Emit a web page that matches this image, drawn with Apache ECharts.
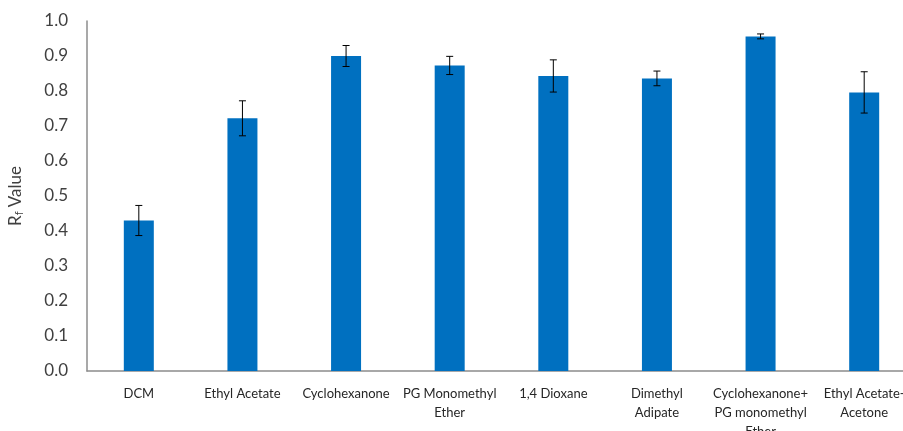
<!DOCTYPE html>
<html><head><meta charset="utf-8">
<script src="https://cdn.jsdelivr.net/npm/echarts@6/dist/echarts.min.js"></script>
<style>html,body{margin:0;padding:0;background:#fff;}#c{width:903px;height:431px;}</style>
</head><body><div id="c"></div>
<script>
const categories = ['DCM', 'Ethyl Acetate', 'Cyclohexanone', 'PG Monomethyl\nEther', '1,4 Dioxane', 'Dimethyl\nAdipate', 'Cyclohexanone+\nPG monomethyl\nEther', 'Ethyl Acetate-\nAcetone'];
const rfValues = [0.430, 0.722, 0.900, 0.873, 0.843, 0.836, 0.956, 0.796];
const rfErrors = [0.043, 0.050, 0.030, 0.026, 0.046, 0.021, 0.007, 0.059];
const yTicks = [0.0, 0.1, 0.2, 0.3, 0.4, 0.5, 0.6, 0.7, 0.8, 0.9, 1.0];

const chart = echarts.init(document.getElementById('c'));
const font = 'Lato, "Open Sans", sans-serif';
chart.setOption({
  animation: false,
  grid: { left: 87, right: -13, top: 21, bottom: 60, containLabel: false, outerBoundsMode: 'none' },
  xAxis: {
    type: 'category', data: categories,
    axisLine: { lineStyle: { color: '#8c8c8c', width: 1.5 } },
    axisTick: { show: false },
    axisLabel: { color: '#262626', fontFamily: font, fontSize: 13, margin: 13, lineHeight: 19, interval: 0, hideOverlap: false }
  },
  yAxis: {
    type: 'value', min: yTicks[0], max: yTicks[yTicks.length - 1], interval: 0.1,
    axisLine: { show: true, lineStyle: { color: '#8c8c8c', width: 1.5 } },
    axisTick: { show: false },
    splitLine: { show: false },
    axisLabel: { color: '#404040', fontFamily: font, fontSize: 17, margin: 19, formatter: v => v.toFixed(1) },
    name: '{a|R}{b|f}{a| Value}',
    nameLocation: 'middle', nameGap: 62, nameRotate: 90,
    nameTextStyle: { rich: {
      a: { fontFamily: font, fontSize: 17, color: '#404040' },
      b: { fontFamily: font, fontSize: 11, color: '#404040', verticalAlign: 'bottom', padding: [7, 0, 0, 0] }
    } }
  },
  series: [
    { type: 'bar', data: rfValues, barWidth: 30, itemStyle: { color: '#0070C0' } },
    {
      type: 'custom', data: rfValues.map((v, i) => [i, v - rfErrors[i], v + rfErrors[i]]),
      z: 10,
      renderItem: function (params, api) {
        const lo = api.coord([api.value(0), api.value(1)]);
        const hi = api.coord([api.value(0), api.value(2)]);
        const hw = 3.5;
        const st = { stroke: '#000', lineWidth: 1 };
        return { type: 'group', children: [
          { type: 'line', shape: { x1: hi[0], y1: hi[1], x2: lo[0], y2: lo[1] }, style: st },
          { type: 'line', shape: { x1: hi[0] - hw, y1: hi[1], x2: hi[0] + hw, y2: hi[1] }, style: st },
          { type: 'line', shape: { x1: lo[0] - hw, y1: lo[1], x2: lo[0] + hw, y2: lo[1] }, style: st }
        ] };
      }
    }
  ]
});
</script></body></html>
